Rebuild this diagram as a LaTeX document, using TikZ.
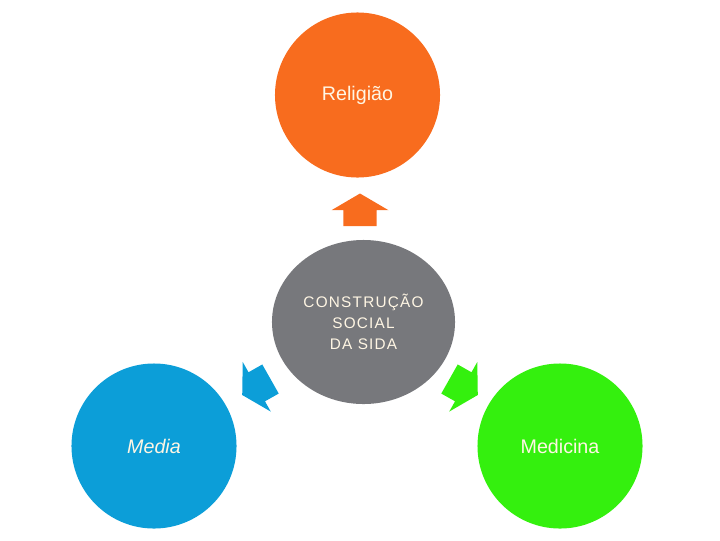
\documentclass[tikz,border=0pt]{standalone}
\usepackage{fontspec}
\setmainfont{Liberation Sans}
\newfontfamily\hubfont[LetterSpace=8]{Liberation Sans}
\usepackage{tikz}
\usetikzlibrary{shapes.geometric}
\definecolor{RelOrange}{RGB}{248, 108, 30}
\definecolor{MediaBlue}{RGB}{12, 158, 216}
\definecolor{MedGreen}{RGB}{52, 240, 14}
\definecolor{SidaGray}{RGB}{119, 120, 124}
\definecolor{LabelCream}{RGB}{255, 246, 228}

\begin{document}
\begin{tikzpicture}[
    x=0.025cm, y=-0.025cm,
    topic/.style={
      circle, inner sep=0pt, minimum size=4.125cm,
      text=LabelCream, font=\fontsize{14}{16}\selectfont
    },
    hub/.style={
      ellipse, inner sep=0pt, fill=SidaGray,
      minimum width=4.575cm, minimum height=4.1cm,
      align=center, text=LabelCream,
      font=\hubfont\fontsize{10.9}{14.9}\selectfont
    },
    blockarr/.pic={
      \fill[#1] (0,-16.7) -- (15.8,-16.7) -- (15.8,-28.5) -- (32.5,0)
        -- (15.8,28.5) -- (15.8,16.7) -- (0,16.7) -- cycle;
    }
  ]
    \useasboundingbox (0,0) rectangle (720,540);

    \node[topic, fill=RelOrange] (religiao) at (357.5,95)  {Religião};
    \node[topic, fill=MediaBlue] (media)    at (154,446)   {\itshape Media};
    \node[topic, fill=MedGreen]  (medicina) at (560,446)   {Medicina};
    \node[hub]                   (sida)     at (363.5,322) {CONSTRUÇÃO\\SOCIAL\\DA SIDA};

    % arrows pointing out of the hub
    \coordinate (upTail)    at (360,226);
    \coordinate (leftTail)  at (270.5,379);
    \coordinate (rightTail) at (449.5,379);

    \pic[rotate=90]    at (upTail)    {blockarr=RelOrange};
    \pic[rotate=209.5] at (leftTail)  {blockarr=MediaBlue};
    \pic[rotate=330.5] at (rightTail) {blockarr=MedGreen};
  \end{tikzpicture}
\end{document}
